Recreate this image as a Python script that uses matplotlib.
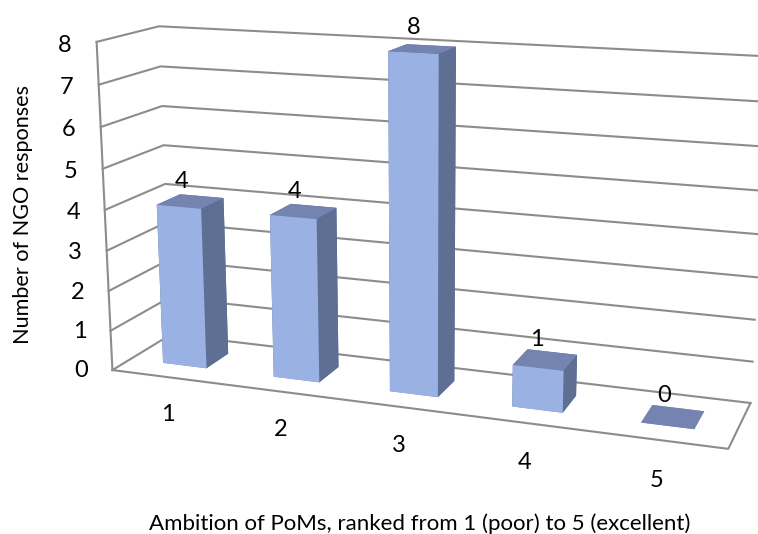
from matplotlib import pyplot as plt
from mpl_toolkits.mplot3d import proj3d

categories = ['1', '2', '3', '4', '5']
responses = [4, 4, 8, 1, 0]
value_ticks = [0, 1, 2, 3, 4, 5, 6, 7, 8]

x_title = 'Ambition of PoMs, ranked from 1 (poor) to 5 (excellent)'
y_title = 'Number of NGO responses'

front_color = '#9AB2E3'
side_color = '#5F6F94'
top_color = '#7483AF'
grid_color = '#8C8C8C'

plt.rcParams['font.family'] = ['Lato', 'DejaVu Sans']

fig = plt.figure(figsize=(7.58, 5.34), dpi=100)

# axes box worked out from the fitted projection, runs past the figure on purpose
ax = fig.add_axes([50.0 / 758, -60.2 / 534, 725.2 / 758, 725.2 / 534], projection='3d')
ax.set_xlim(0, 5, view_margin=0)
ax.set_ylim(0, 1, view_margin=0)
ax.set_zlim(0, 8, view_margin=0)
ax.set_box_aspect((1, 0.19887, 0.53558))
ax.view_init(elev=14.10, azim=-70.12)
ax.set_proj_type('persp', focal_length=0.42212)
ax.set_axis_off()
ax.computed_zorder = False
ax.patch.set_alpha(0)

n = len(categories)
zmax = max(value_ticks)


def label(x, y, z, s):
    # project to 2D so the text keeps a real position on the axes
    px, py, _ = proj3d.proj_transform(x, y, z, ax.get_proj())
    ax.text2D(px, py, s, transform=ax.transData, fontsize=17, ha='center', va='center', zorder=10)


# gridlines go along the left wall then the back wall
for z in value_ticks:
    ax.plot([0, 0, n], [0, 1, 1], [z, z, z], color=grid_color, lw=1.5, zorder=1)
ax.plot([0, 0], [0, 0], [0, zmax], color=grid_color, lw=1.5, zorder=1)
ax.plot([0, n, n], [0, 0, 1], [0, 0, 0], color=grid_color, lw=1.5, zorder=1)

bar_w = 0.398
bar_d = 0.398
# face order in bar3d: bottom, top, front, back, left, right
face_colors = [top_color, top_color, front_color, side_color, side_color, side_color]
for i, v in enumerate(responses):
    ax.bar3d(i + 0.5 - bar_w / 2, 0.5 - bar_d / 2, 0, bar_w, bar_d, v,
             color=face_colors, shade=False, zorder=2 + i)
    label(i + 0.43, 0.5, v + 0.47, str(v))
    label(i + 0.49, 0, -0.95, categories[i])

for z in value_ticks:
    label(-0.29, 0, z - 0.12, str(z))

fig.text(420 / 758, 1 - 524 / 534, x_title, fontsize=16, ha='center', va='center')
fig.text(23 / 758, 1 - 214 / 534, y_title, fontsize=15.6, ha='center', va='center', rotation=90)

fig.savefig('out.png', dpi=100)
